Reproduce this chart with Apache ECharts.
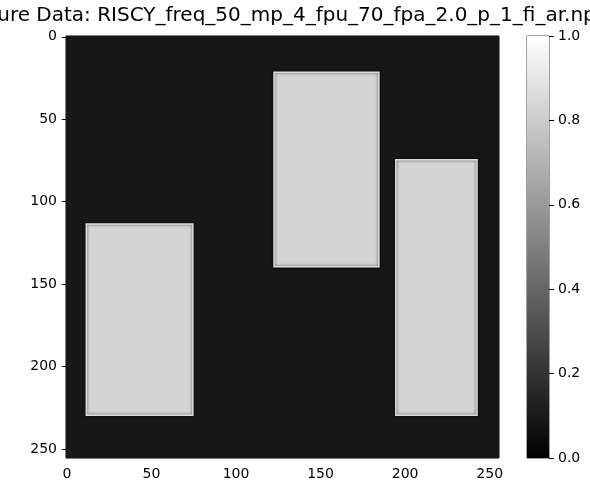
<!DOCTYPE html>
<html>
<head>
<meta charset="utf-8">
<script src="https://cdn.jsdelivr.net/npm/echarts@6/dist/echarts.min.js"></script>
<style>
  html, body { margin: 0; padding: 0; background: #fff; }
  #chart { width: 590px; height: 484px; }
</style>
</head>
<body>
<div id="chart"></div>
<script>
var titleText = "Feature Data: RISCY_freq_50_mp_4_fpu_70_fpa_2.0_p_1_fi_ar.npy";

// image is 256 x 256, drawn as blocks of constant value
var imgSize = 256;
var bgValue = 0.09;
// rectangles: x from..to, y from..to (pixel indices), value
var rectX0 = [12, 123, 195];
var rectX1 = [75, 185, 243];
var rectY0 = [114, 22, 75];
var rectY1 = [230, 140, 230];
var rectValue = [0.83, 0.83, 0.83];

var axisTicks = [0, 50, 100, 150, 200, 250];
var cbarTicks = [0, 0.2, 0.4, 0.6, 0.8, 1.0];

function grayOf(v) {
    var g = Math.round(Math.max(0, Math.min(1, v)) * 255);
    return "rgb(" + g + "," + g + "," + g + ")";
}

var blocks = [[-0.5, imgSize - 0.5, -0.5, imgSize - 0.5, bgValue]];
for (var i = 0; i < rectX0.length; i++) {
    blocks.push([rectX0[i] - 0.5, rectX1[i] - 0.5, rectY0[i] - 0.5, rectY1[i] - 0.5, rectValue[i]]);
}

function renderBlock(params, api) {
    var p0 = api.coord([api.value(0), api.value(2)]);
    var p1 = api.coord([api.value(1), api.value(3)]);
    var v = api.value(4);
    var isBg = params.dataIndex === 0;
    return {
        type: "rect",
        shape: {
            x: Math.min(p0[0], p1[0]),
            y: Math.min(p0[1], p1[1]),
            width: Math.abs(p1[0] - p0[0]),
            height: Math.abs(p1[1] - p0[1])
        },
        style: {
            fill: grayOf(v),
            stroke: isBg ? null : grayOf(v + 0.04),
            lineWidth: isBg ? 0 : 1.5,
            shadowColor: isBg ? null : "rgba(0,0,0,0.7)",
            shadowBlur: isBg ? 0 : 3
        }
    };
}

var font = "DejaVu Sans";
var chart = echarts.init(document.getElementById("chart"));
chart.setOption({
    animation: false,
    textStyle: { fontFamily: font },
    title: {
        text: titleText,
        left: 276,
        top: 1,
        textAlign: "center",
        textStyle: { fontFamily: font, fontSize: 20, fontWeight: "normal", color: "#000" }
    },
    grid: [
        { left: 66, top: 36, width: 433, height: 422, show: true, borderColor: "#000", borderWidth: 1, backgroundColor: "transparent" },
        { left: 527, top: 36, width: 22, height: 422, show: true, borderColor: "#444", borderWidth: 1, backgroundColor: "transparent" }
    ],
    xAxis: [
        {
            type: "value", gridIndex: 0, min: -0.5, max: imgSize - 0.5,
            axisLine: { show: false },
            axisTick: { show: true, length: 5, customValues: axisTicks, lineStyle: { color: "#000" } },
            axisLabel: { customValues: axisTicks, margin: 9, fontSize: 14, color: "#000", fontFamily: font },
            splitLine: { show: false }
        },
        {
            type: "category", gridIndex: 1, data: ["cb"], show: false
        }
    ],
    yAxis: [
        {
            type: "value", gridIndex: 0, inverse: true, min: -0.5, max: imgSize - 0.5,
            axisLine: { show: false },
            axisTick: { show: true, length: 5, customValues: axisTicks, lineStyle: { color: "#000" } },
            axisLabel: { customValues: axisTicks, margin: 9, fontSize: 14, color: "#000", fontFamily: font },
            splitLine: { show: false }
        },
        {
            type: "value", gridIndex: 1, position: "right", min: 0, max: 1, interval: 0.2,
            axisLine: { show: false },
            axisTick: { show: true, length: 5, lineStyle: { color: "#000" } },
            axisLabel: {
                margin: 9, fontSize: 14, color: "#000", fontFamily: font,
                formatter: function (v) { return v.toFixed(1); }
            },
            splitLine: { show: false }
        }
    ],
    series: [
        {
            type: "custom",
            xAxisIndex: 0,
            yAxisIndex: 0,
            clip: true,
            renderItem: renderBlock,
            encode: { x: [0, 1], y: [2, 3] },
            data: blocks,
            z: 1
        },
        {
            type: "bar",
            xAxisIndex: 1,
            yAxisIndex: 1,
            barWidth: "100%",
            data: [cbarTicks[cbarTicks.length - 1]],
            itemStyle: {
                color: new echarts.graphic.LinearGradient(0, 0, 0, 1, [
                    { offset: 0, color: "#ffffff" },
                    { offset: 1, color: "#000000" }
                ])
            },
            z: 1
        }
    ]
});
</script>
</body>
</html>
